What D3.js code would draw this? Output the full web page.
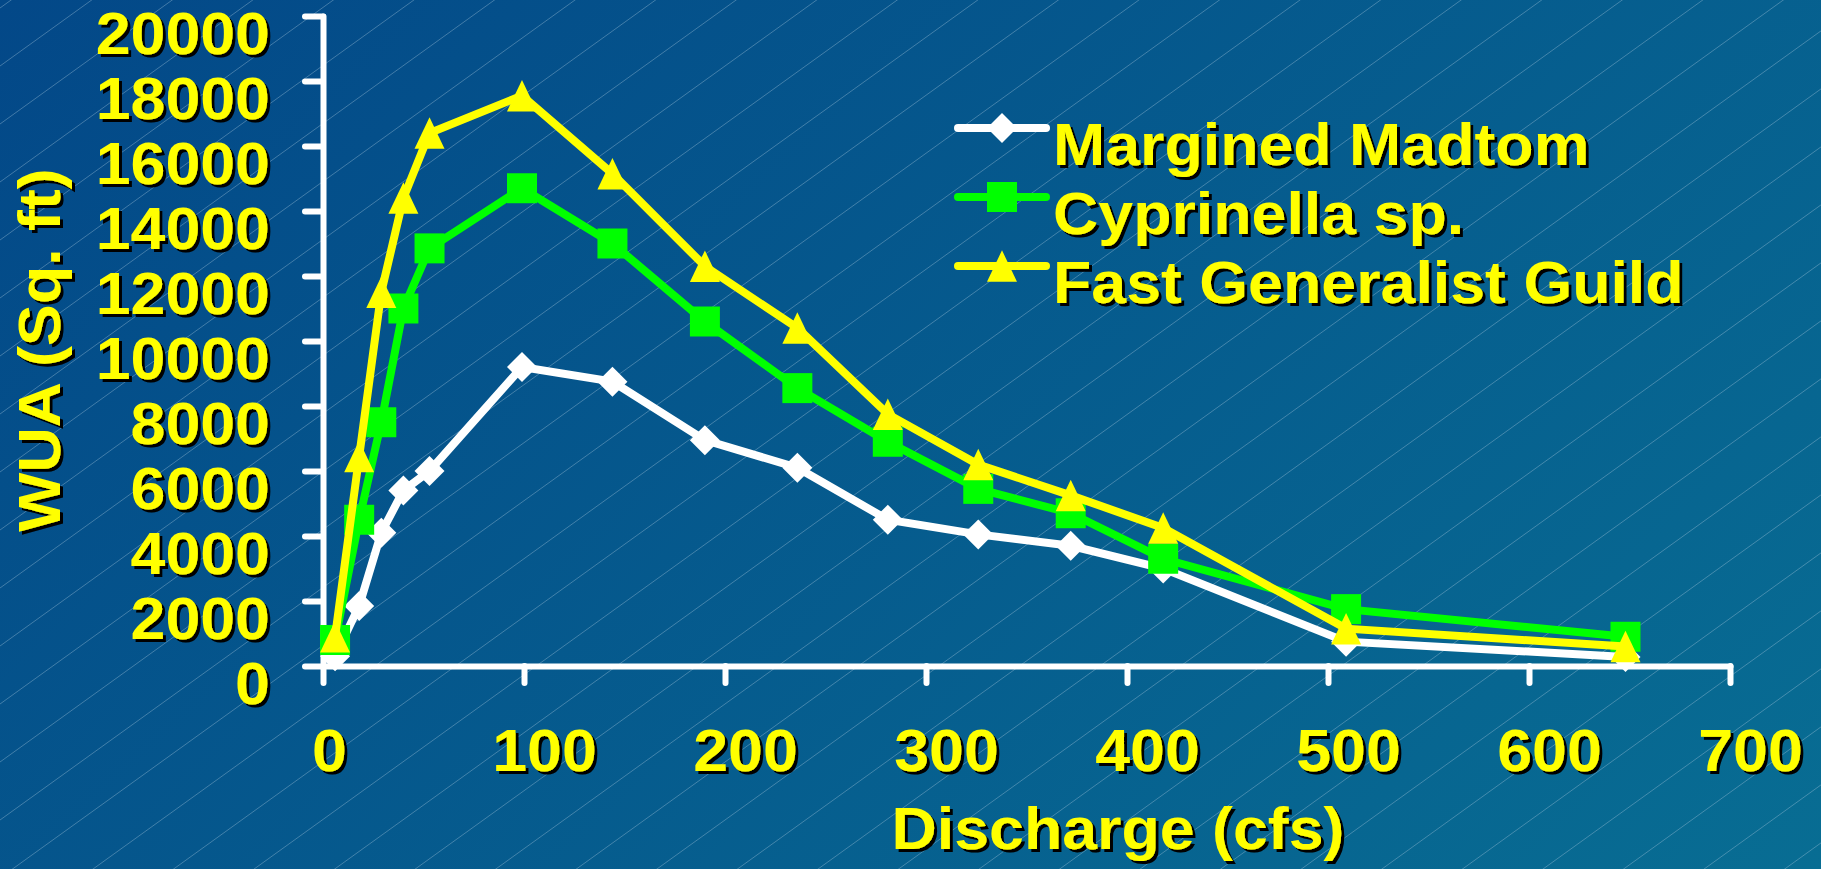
<!DOCTYPE html>
<html><head><meta charset="utf-8">
<script src="https://cdn.jsdelivr.net/npm/d3@7"></script>
<style>
html,body{margin:0;padding:0;overflow:hidden;background:#055a8c;}
svg{display:block;}
text{font-family:"Liberation Sans",Arial,sans-serif;font-weight:bold;}
</style></head>
<body>
<svg id="chart" width="1821" height="869"></svg>
<script>
// ---- data ----
const discharge  = [6, 18, 29, 40, 53, 99, 144, 190, 236, 281, 326, 372, 418, 509, 648];
const madtom     = [300, 1850, 4100, 5400, 6000, 9200, 8750, 6950, 6100, 4500, 4050, 3700, 3000, 750, 280];
const cyprinella = [800, 4500, 7500, 11000, 12850, 14700, 13000, 10600, 8550, 6900, 5450, 4700, 3300, 1750, 900];
const fastGuild  = [900, 6450, 11500, 14400, 16400, 17550, 15150, 12300, 10400, 7750, 6200, 5250, 4250, 1150, 600];
const seriesNames = ["Margined Madtom", "Cyprinella sp.", "Fast Generalist Guild"];
const xTicks = [0, 100, 200, 300, 400, 500, 600, 700];
const yTicks = [0, 2000, 4000, 6000, 8000, 10000, 12000, 14000, 16000, 18000, 20000];
const xTitle = "Discharge (cfs)";
const yTitle = "WUA (Sq. ft)";

const W = 1821, H = 869;
const FS = 60, STRETCH = 1.045;
const svg = d3.select("#chart");
const defs = svg.append("defs");

// background gradient
const grad = defs.append("linearGradient").attr("id","bg")
  .attr("gradientUnits","userSpaceOnUse").attr("x1",0).attr("y1",0).attr("x2",1274).attr("y2",1376);
grad.append("stop").attr("offset","0").attr("stop-color","#034888");
grad.append("stop").attr("offset","1").attr("stop-color","#086d93");

// text shadow filter
const f = defs.append("filter").attr("id","sh").attr("x","-5%").attr("y","-10%").attr("width","115%").attr("height","130%");
f.append("feOffset").attr("in","SourceAlpha").attr("dx",2.5).attr("dy",2.5).attr("result","o");
const m = f.append("feMerge");
m.append("feMergeNode").attr("in","o");
m.append("feMergeNode").attr("in","SourceGraphic");

svg.append("rect").attr("width",W).attr("height",H).attr("fill","url(#bg)");

// diagonal pattern lines
const slope = 0.72, step = 58, c0 = 8;
const diag = svg.append("g").attr("stroke","#a9c8dc").attr("stroke-opacity",0.38).attr("stroke-width",1);
for (let c = c0; c < H + slope*W + step; c += step) {
  diag.append("line").attr("x1",0).attr("y1",c).attr("x2",W).attr("y2",c - slope*W);
}

// scales
const x = d3.scaleLinear().domain([0,700]).range([323,1730]);
const y = d3.scaleLinear().domain([0,20000]).range([666,16]);

// axes
const gy = svg.append("g").attr("transform",`translate(${x(0)},0)`)
  .call(d3.axisLeft(y).tickValues(yTicks).tickSize(18).tickSizeOuter(0).tickFormat(d3.format("d")));
const gx = svg.append("g").attr("transform",`translate(0,${y(0)})`)
  .call(d3.axisBottom(x).tickValues(xTicks).tickSize(17).tickSizeOuter(0).tickFormat(d3.format("d")));
[gx, gy].forEach(g => {
  g.select(".domain").attr("stroke","#fff").attr("stroke-width",6).attr("stroke-linecap","round");
  g.selectAll(".tick line").attr("stroke","#fff").attr("stroke-width",6).attr("stroke-linecap","round");
  g.selectAll(".tick text").attr("fill","#ffff00").attr("font-size",FS)
    .attr("font-family",'"Liberation Sans",Arial,sans-serif').attr("font-weight","bold")
    .attr("filter","url(#sh)");
});
gy.selectAll(".tick text").attr("x",null).attr("dy",null).attr("text-anchor","end")
  .attr("transform",`translate(-53,37) scale(${STRETCH},1)`);
gx.selectAll(".tick text").attr("y",null).attr("dy",null).attr("text-anchor","middle")
  .attr("transform",d => `translate(${d===0?6:20},105) scale(${STRETCH},1)`);

// titles
function label(parent, tx, ty, str, anchor, rot) {
  const g = parent.append("g").attr("filter","url(#sh)");
  g.append("text").attr("fill","#ffff00").attr("font-size",FS).attr("text-anchor",anchor)
    .attr("transform",`translate(${tx},${ty})${rot?` rotate(${rot})`:""} scale(${STRETCH},1)`)
    .text(str);
  return g;
}
label(svg, 1118, 849, xTitle, "middle", 0);
label(svg, 60, 350, yTitle, "middle", -90);

// marker shapes
const diamondType = {draw(ctx, size){ const r = Math.sqrt(size)/2; ctx.moveTo(0,-r); ctx.lineTo(r,0); ctx.lineTo(0,r); ctx.lineTo(-r,0); ctx.closePath(); }};
const squareType = {draw(ctx, size){ const r = Math.sqrt(size)/2; ctx.rect(-r,-r,2*r,2*r); }};
const triType = {draw(ctx, size){ const r = Math.sqrt(size)/2; ctx.moveTo(0,-r*1.05); ctx.lineTo(r,r*1.05); ctx.lineTo(-r,r*1.05); ctx.closePath(); }};

const series = [
  {name: seriesNames[0], values: madtom,     color: "#ffffff", type: diamondType, size: 30*30},
  {name: seriesNames[1], values: cyprinella, color: "#00ff00", type: squareType,  size: 30*30},
  {name: seriesNames[2], values: fastGuild,  color: "#ffff00", type: triType,     size: 30*30}
];

const line = d3.line().x(d => x(d[0])).y(d => y(d[1]));
series.forEach(s => {
  const pts = discharge.map((q,i) => [q, s.values[i]]);
  const g = svg.append("g");
  g.append("path").attr("d", line(pts)).attr("fill","none").attr("stroke",s.color)
    .attr("stroke-width",8).attr("stroke-linejoin","miter");
  g.selectAll("path.mk").data(pts).join("path").attr("class","mk")
    .attr("d", d3.symbol().type(s.type).size(s.size))
    .attr("transform", d => `translate(${x(d[0])},${y(d[1])})`)
    .attr("fill", s.color);
});

// legend
const lg = svg.append("g");
series.forEach((s,i) => {
  const ly = 128 + i*69;
  lg.append("line").attr("x1",958).attr("x2",1046).attr("y1",ly).attr("y2",ly)
    .attr("stroke",s.color).attr("stroke-width",8).attr("stroke-linecap","round");
  lg.append("path").attr("d", d3.symbol().type(s.type).size(s.size)())
    .attr("transform",`translate(1002,${ly})`).attr("fill",s.color);
  label(lg, 1053, ly + 37, s.name, "start", 0);
});
</script>
</body></html>
